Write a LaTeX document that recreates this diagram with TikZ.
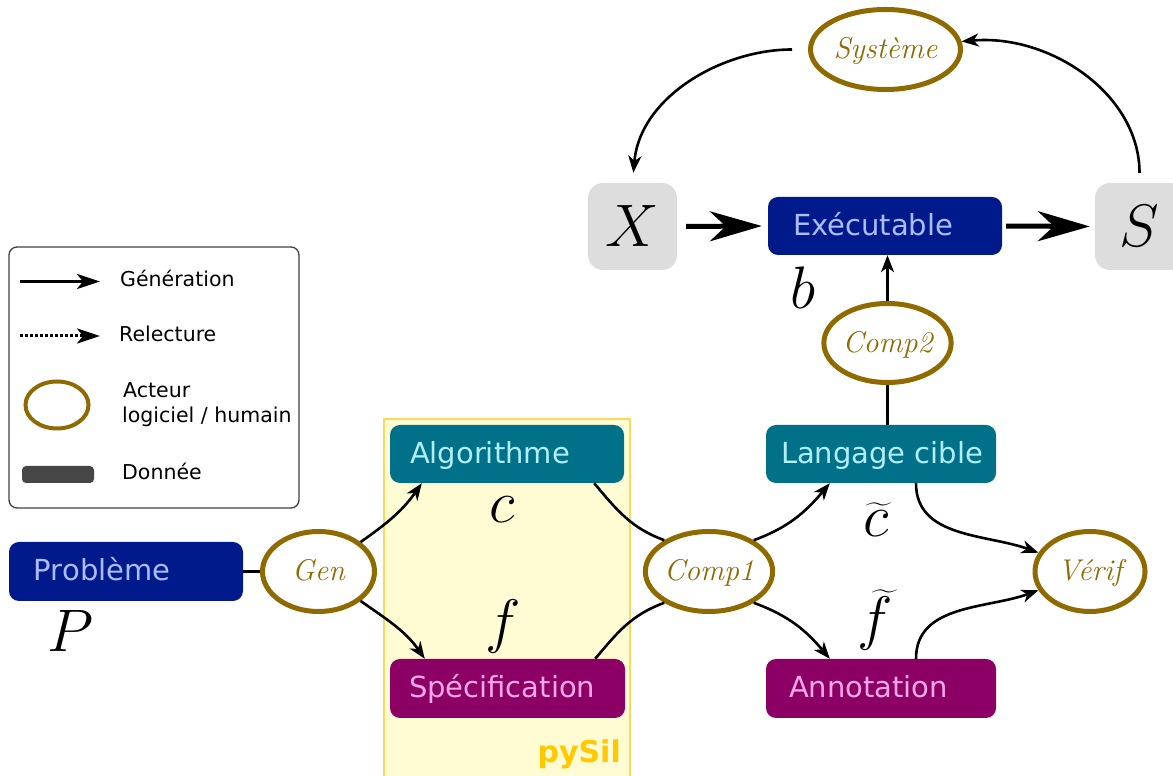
\RequirePackage{fix-cm}
\documentclass[tikz,border=0pt]{standalone}
\usepackage{exscale}
\usepackage{fontspec}
\usetikzlibrary{arrows.meta,shapes.geometric}
\newfontfamily\labelsans{DejaVu Sans}

\definecolor{probblue}{RGB}{0,26,140}
\definecolor{probtext}{RGB}{172,188,255}
\definecolor{algteal}{RGB}{0,113,137}
\definecolor{algtext}{RGB}{178,238,250}
\definecolor{specpurple}{RGB}{140,0,102}
\definecolor{spectext}{RGB}{246,168,230}
\definecolor{actor}{RGB}{142,106,0}
\definecolor{iobox}{RGB}{221,221,221}
\definecolor{pysilfill}{RGB}{255,252,212}
\definecolor{pysilline}{RGB}{252,216,96}
\definecolor{pysiltext}{RGB}{255,200,0}
\definecolor{legendline}{RGB}{64,64,64}
\definecolor{datagrey}{RGB}{70,70,70}

\begin{document}
\begin{tikzpicture}[x=1pt,y=1pt,
  databox/.style={rectangle, rounded corners=10pt, inner sep=0pt, minimum height=58pt},
  boxtext/.style={font=\labelsans\fontsize{29}{29}\selectfont, inner sep=0pt, anchor=base west},
  actorell/.style={ellipse, draw=actor, line width=5pt, fill=white, inner sep=0pt,
    minimum width=112pt, minimum height=80pt, text=actor,
    font=\fontsize{30}{30}\selectfont\itshape, text height=21pt, text depth=2pt},
  iovar/.style={rectangle, rounded corners=15pt, fill=iobox, inner sep=0pt,
    minimum width=89pt, minimum height=87pt, font=\fontsize{60}{60}\selectfont},
  mathlbl/.style={inner sep=0pt, font=\fontsize{60}{60}\selectfont},
  conn/.style={line width=2.6pt, -{Stealth[length=17pt,width=13pt,inset=5pt]}},
  plainline/.style={line width=2.6pt},
  bigarrow/.style={line width=5pt, -{Stealth[length=52pt,width=30pt,inset=16pt]}},
  legarrow/.style={line width=3pt, -{Stealth[length=23pt,width=15pt,inset=6pt]}},
  legtext/.style={font=\labelsans\fontsize{20.5}{25}\selectfont, inner sep=0pt, anchor=base west}
]
\useasboundingbox (0,0) rectangle (1173,776);
\clip (0,0) rectangle (1173,776);

% pySil frame
\node[draw=pysilline, fill=pysilfill, line width=1.5pt, rectangle, inner sep=0pt,
  minimum width=246pt, minimum height=362pt] (pysilframe) at (507,176) {};
\node[font=\labelsans\bfseries\fontsize{30}{30}\selectfont, text=pysiltext,
  anchor=base east, inner sep=0pt] (pysil) at (621,13) {pySil};

% legend
\node[draw=legendline, line width=1.3pt, rounded corners=8pt, rectangle,
  minimum width=290pt, minimum height=261pt] (legend) at (154,398.5) {};
\coordinate (g0) at (20,494.5);
\coordinate (g1) at (100,494.5);
\draw[legarrow] (g0) -- (g1);
\node[legtext] (legG) at (120,489) {Génération};
\coordinate (r0) at (20,440);
\coordinate (r1) at (100,440);
\draw[legarrow, dash pattern=on 3pt off 2pt] (r0) -- (r1);
\node[legtext] (legR) at (119,434) {Relecture};
\node[ellipse, draw=actor, line width=4pt, inner sep=0pt,
  minimum width=63pt, minimum height=47pt] (legact) at (57,371) {};
\node[legtext] (legA1) at (123,378) {Acteur};
\node[legtext] (legA2) at (122,353) {logiciel / humain};
\node[rectangle, rounded corners=4pt, fill=datagrey, inner sep=0pt,
  minimum width=72pt, minimum height=17pt] (legdata) at (58,301.5) {};
\node[legtext] (legD) at (122,296) {Donnée};

% data boxes
\node[databox, fill=probblue, minimum width=234pt, minimum height=59pt] (prob) at (126,204.5) {};
\node[boxtext, text=probtext] (probT) at ([xshift=25pt,yshift=-9.5pt]prob.west) {Problème};
\node[databox, fill=algteal, minimum width=234pt] (alg) at (507,322) {};
\node[boxtext, text=algtext] (algT) at ([xshift=20pt,yshift=-9.5pt]alg.west) {Algorithme};
\node[databox, fill=specpurple, minimum width=235pt, minimum height=59pt] (spec) at (507.5,87.5) {};
\node[boxtext, text=spectext] (specT) at ([xshift=19pt,yshift=-9.5pt]spec.west) {Spécification};
\node[databox, fill=algteal, minimum width=230pt] (lang) at (881,322) {};
\node[boxtext, text=algtext] (langT) at ([xshift=15pt,yshift=-9.5pt]lang.west) {Langage cible};
\node[databox, fill=specpurple, minimum width=230pt, minimum height=59pt] (anno) at (881,87.5) {};
\node[boxtext, text=spectext] (annoT) at ([xshift=23pt,yshift=-9.5pt]anno.west) {Annotation};
\node[databox, fill=probblue, minimum width=234pt] (exe) at (885,550) {};
\node[boxtext, text=probtext] (exeT) at ([xshift=25pt,yshift=-9.5pt]exe.west) {Exécutable};

% inputs / outputs
\node[iovar] (X) at (632.5,549.5) {$X$};
\node[iovar] (S) at (1139.5,549.5) {$S$};

% actors
\node[actorell] (gen) at (318.5,204.5) {Gen};
\node[actorell, minimum width=110pt] (comp1) at (709,204.5) {Comp1};
\node[actorell, minimum width=110pt] (verif) at (1090,204.5) {Vérif};
\node[actorell, minimum height=79pt] (comp2) at (887.5,433) {Comp2};
\node[actorell, minimum width=150pt] (sys) at (885.5,726.5) {Système};

% math names
\node[mathlbl] (lblP) at (71,145) {$P$};
\node[mathlbl] (lblb) at (802.5,488) {$b$};
\node[mathlbl] (lblc) at (502.5,266) {$c$};
\node[mathlbl] (lblf) at (503,149) {$f$};
\node[mathlbl] (lblct) at (876,256) {$\widetilde{c}$};
\node[mathlbl] (lblft) at (875,156) {$\widetilde{f}$};

% connectors
\draw[plainline, line width=3pt] (prob.east) -- (gen.west);
\draw[conn] (gen.35) to[out=35,in=-125] ([xshift=32pt]alg.south west);
\draw[conn] (gen.-35) to[out=-35,in=125] ([xshift=35pt]spec.north west);
\draw[plainline] ([xshift=-30pt]alg.south east) to[out=-50,in=160] (comp1.145);
\draw[plainline] ([xshift=-30pt]spec.north east) to[out=50,in=-160] (comp1.-145);
\draw[conn] (comp1.35) to[out=20,in=-130] ([xshift=64pt]lang.south west);
\draw[conn] (comp1.-35) to[out=-20,in=130] ([xshift=64pt]anno.north west);
\draw[conn] ([xshift=35pt]lang.south) to[out=-90,in=160] (verif.160);
\draw[conn] ([xshift=35pt]anno.north) to[out=90,in=-160] (verif.-160);
\draw[plainline] (comp2.south) -- (comp2.south |- lang.north);
\draw[conn] (comp2.north) -- (comp2.north |- exe.south);
\draw[bigarrow, shorten <=9pt, shorten >=6pt] (X.east) -- (exe.west);
\draw[bigarrow, shorten <=4pt, shorten >=5pt] (exe.east) -- (S.west);
\draw[conn, shorten <=16pt, shorten >=10pt] (sys.west) to[out=180,in=85] (X.north);
\draw[conn, shorten <=10pt] (S.north) to[out=90,in=5] (sys.6);
\end{tikzpicture}
\end{document}
